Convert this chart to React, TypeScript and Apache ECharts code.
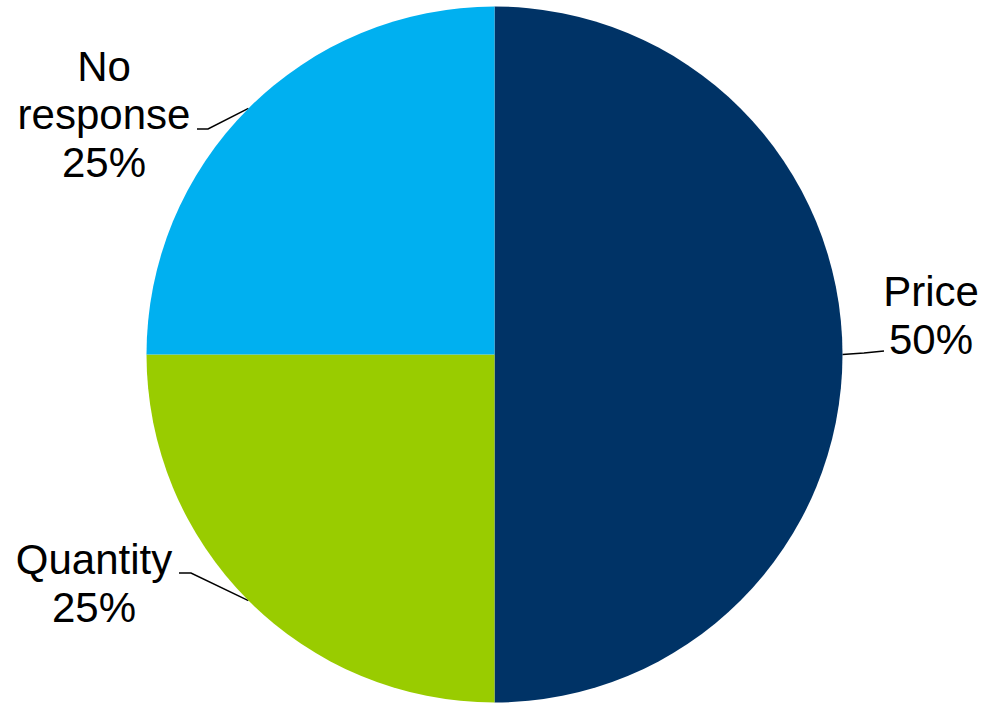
import React, { useEffect, useRef } from "react";
import * as echarts from "echarts";

const categories = ["Price", "Quantity", "No response"];
const shares = [50, 25, 25];
const colors = ["#003366", "#99CC00", "#00B0F0"];

// label placement (layout only): centre of text block and leader-line bend points
const labelLayoutSpec = [
  { x: 931, y: 315, line: [[864, 353], [884, 351]] },
  { x: 94, y: 583, line: [[191, 573], [179, 573]] },
  { x: 104, y: 114, line: [[208, 129], [197, 129]] },
];

export default function App() {
  const ref = useRef<HTMLDivElement>(null);
  useEffect(() => {
    document.body.style.margin = "0";
    const chart = echarts.init(ref.current!, undefined, { renderer: "svg" });
    chart.setOption({
      animation: false,
      backgroundColor: "#ffffff",
      series: [
        {
          type: "pie",
          center: [494.5, 354.5],
          radius: 348,
          startAngle: 90,
          clockwise: true,
          data: categories.map((name, i) => ({
            name,
            value: shares[i],
            itemStyle: { color: colors[i] },
          })),
          label: {
            show: true,
            position: "outside",
            formatter: (p: any) =>
              String(p.name).replace(" ", "\n") + "\n" + Math.round(p.percent) + "%",
            fontFamily: "Liberation Sans, Arial, sans-serif",
            fontSize: 42,
            lineHeight: 48,
            color: "#000000",
            align: "center",
            width: 240,
            overflow: "none",
          },
          labelLine: {
            show: true,
            length: 20,
            length2: 10,
            lineStyle: { color: "#000000", width: 1.5 },
          },
          labelLayout: (p: any) => {
            const s = labelLayoutSpec[p.dataIndex];
            const start =
              p.labelLinePoints && p.labelLinePoints[0]
                ? p.labelLinePoints[0]
                : s.line[0];
            return {
              x: s.x,
              y: s.y,
              align: "center",
              verticalAlign: "middle",
              labelLinePoints: [start, ...s.line],
            };
          },
        },
      ],
    });
    return () => chart.dispose();
  }, []);
  return (
    <div
      ref={ref}
      style={{ position: "fixed", left: 0, top: 0, width: 984, height: 703 }}
    />
  );
}
